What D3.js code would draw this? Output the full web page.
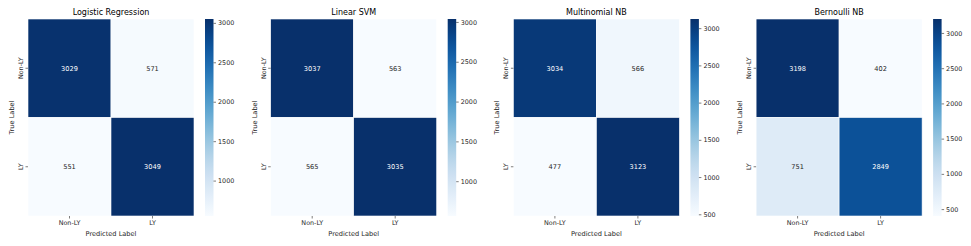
<!doctype html>
<html>
  <head>
    <script src="https://cdnjs.cloudflare.com/ajax/libs/d3/7.8.5/d3.min.js"></script>
    <style>
      body { margin: 0; background: #fff; }
      text { font-family: "DejaVu Sans", sans-serif; }
    </style>
  </head>
  <body>
    <svg width="971" height="246"></svg>
    <script>
        // confusion matrices, rows = true label, cols = predicted label
        var models = ["Logistic Regression", "Linear SVM", "Multinomial NB", "Bernoulli NB"];
        var classLabels = ["Non-LY", "LY"];
        var logReg = [[3029, 571], [551, 3049]];
        var linSvm = [[3037, 563], [565, 3035]];
        var multiNb = [[3034, 566], [477, 3123]];
        var bernNb = [[3198, 402], [751, 2849]];
        var cbarTicks = [500, 1000, 1500, 2000, 2500, 3000];

        var matrices = [logReg, linSvm, multiNb, bernNb];

        var svg = d3.select("svg");
        var defs = svg.append("defs");

        var topY = 19, hmH = 197, hmW = 166, step = 242.7;
        var textCol = "#262626";

        models.forEach(function(name, i){
            var m = matrices[i];
            var flat = d3.merge(m);
            var ext = d3.extent(flat);
            var color = d3.scaleSequential(d3.interpolateBlues).domain(ext);

            var g = svg.append("g")
                .attr("transform", "translate(" + (28 + i * step) + "," + topY + ")");

            var x = d3.scaleBand().domain(classLabels).range([0, hmW]);
            var y = d3.scaleBand().domain(classLabels).range([0, hmH]);

            var cells = [];
            m.forEach(function(row, r){
                row.forEach(function(v, c){
                    cells.push({t: classLabels[r], p: classLabels[c], v: v});
                });
            });

            g.selectAll("rect.cell")
                .data(cells)
                .enter()
                .append("rect")
                    .attr("class", "cell")
                    .attr("x", d => x(d.p))
                    .attr("y", d => y(d.t))
                    .attr("width", x.bandwidth())
                    .attr("height", y.bandwidth())
                    .style("fill", d => color(d.v))
                    .style("stroke", "#fff")
                    .style("stroke-width", 0.6);

            g.selectAll("text.ann")
                .data(cells)
                .enter()
                .append("text")
                    .attr("class", "ann")
                    .attr("x", d => x(d.p) + x.bandwidth() / 2)
                    .attr("y", d => y(d.t) + y.bandwidth() / 2)
                    .attr("dy", "0.35em")
                    .attr("text-anchor", "middle")
                    .style("font-size", "6.6px")
                    .style("fill", function(d){
                        var c = d3.rgb(color(d.v));
                        var lum = 0.2126 * c.r + 0.7152 * c.g + 0.0722 * c.b;
                        return lum < 110 ? "#fff" : textCol;
                    })
                    .text(d => d.v);

            // x axis
            var xa = g.append("g")
                .attr("transform", "translate(0," + hmH + ")")
                .call(d3.axisBottom(x).tickSize(2.5).tickPadding(2));
            xa.select(".domain").remove();
            xa.selectAll("line").style("stroke", textCol).style("stroke-width", 0.6);
            xa.selectAll("text").style("font-size", "6.4px").style("fill", textCol);

            // y axis with rotated labels
            var ya = g.append("g")
                .call(d3.axisLeft(y).tickSize(2.5).tickPadding(2));
            ya.select(".domain").remove();
            ya.selectAll("line").style("stroke", textCol).style("stroke-width", 0.6);
            ya.selectAll("text")
                .style("font-size", "6.4px")
                .style("fill", textCol)
                .attr("text-anchor", "middle")
                .attr("dy", 0)
                .attr("x", 0)
                .attr("transform", "translate(-5,0) rotate(-90)");

            g.append("text")
                .attr("x", hmW / 2)
                .attr("y", -4)
                .attr("text-anchor", "middle")
                .style("font-size", "8px")
                .style("fill", "#000")
                .text(name);

            g.append("text")
                .attr("x", hmW / 2)
                .attr("y", hmH + 20)
                .attr("text-anchor", "middle")
                .style("font-size", "6.6px")
                .style("fill", textCol)
                .text("Predicted Label");

            g.append("text")
                .attr("transform", "translate(-14," + (hmH / 2) + ") rotate(-90)")
                .attr("text-anchor", "middle")
                .style("font-size", "6.6px")
                .style("fill", textCol)
                .text("True Label");

            // colorbar
            var gid = "grad" + i;
            var grad = defs.append("linearGradient")
                .attr("id", gid)
                .attr("x1", 0).attr("y1", 1).attr("x2", 0).attr("y2", 0);
            d3.range(0, 1.0001, 0.05).forEach(function(t){
                grad.append("stop")
                    .attr("offset", t)
                    .attr("stop-color", d3.interpolateBlues(t));
            });

            var cb = g.append("g").attr("transform", "translate(" + (hmW + 11) + ",0)");
            cb.append("rect")
                .attr("width", 8.5)
                .attr("height", hmH)
                .style("fill", "url(#" + gid + ")");

            var cy = d3.scaleLinear().domain(ext).range([hmH, 0]);
            var ca = cb.append("g")
                .attr("transform", "translate(8.5,0)")
                .call(d3.axisRight(cy)
                    .tickValues(cbarTicks.filter(v => v >= ext[0] && v <= ext[1]))
                    .tickFormat(d3.format("d"))
                    .tickSize(2.5).tickPadding(2));
            ca.select(".domain").remove();
            ca.selectAll("line").style("stroke", textCol).style("stroke-width", 0.6);
            ca.selectAll("text").style("font-size", "6.4px").style("fill", textCol);
        });
    </script>
  </body>
</html>
